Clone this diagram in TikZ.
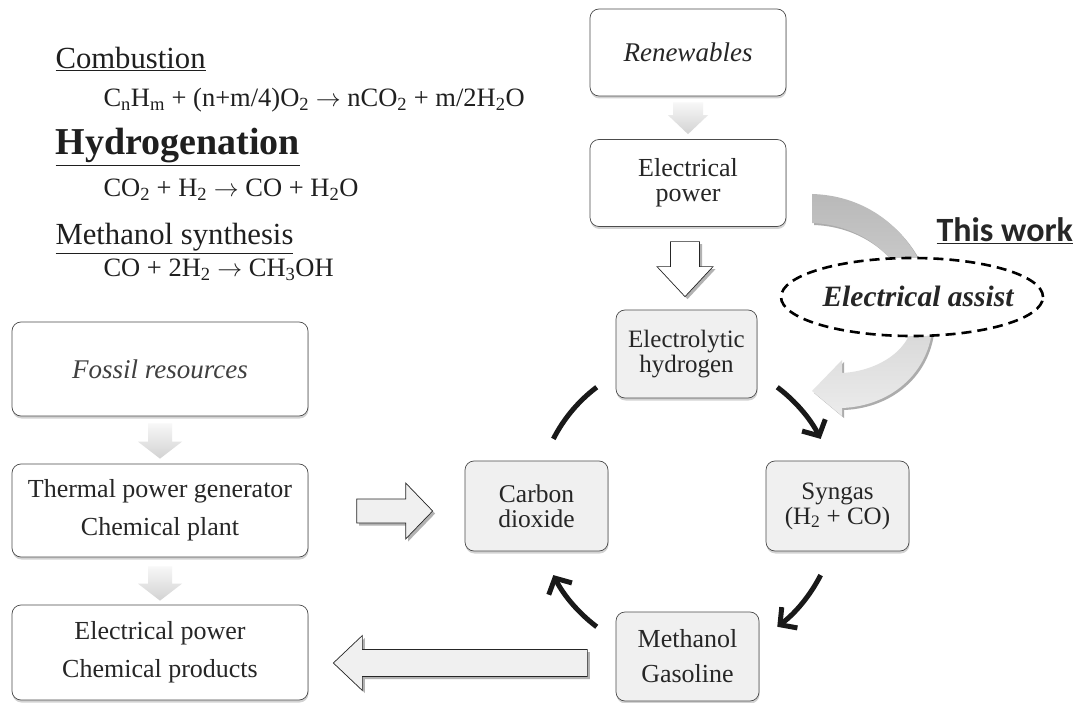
\documentclass[tikz,border=0pt]{standalone}
\usepackage{fontspec}
\setmainfont{Liberation Serif}
\newfontfamily\calibri{Carlito}
\usetikzlibrary{calc,shapes.geometric,shadows,arrows.meta}
\begin{document}
\begin{tikzpicture}[x=1pt,y=-1pt,
  box/.style={draw=gray!60!black, line width=0.7pt, rounded corners=9pt, fill=white, align=center, inner sep=0pt, text=black!85,
    drop shadow={shadow xshift=0.5pt,shadow yshift=-2.5pt,opacity=0.35}},
  cbox/.style={box, fill=gray!12},
  garrow/.style={top color=gray!6, bottom color=gray!35, draw=none},
  harrow/.style={draw=black!85, line width=0.7pt, drop shadow={shadow xshift=2.5pt,shadow yshift=-2.5pt,opacity=1,fill=gray!60}},
  cycarrow/.style={line width=5pt, black!90, -{Straight Barb[length=12pt,width=26pt]}},
  cycline/.style={line width=5pt, black!90},
  eqtext/.style={anchor=base west, text=black!88, font=\fontsize{26.5}{28}\selectfont},
  headtext/.style={anchor=base west, text=black!88, font=\fontsize{30.7}{32}\selectfont},
]
\fill[white] (0,0) rectangle (1082,703);
\useasboundingbox (0,0) rectangle (1082,703);

% ---- equations ----
\node[headtext] (t1) at (52,69) {\underline{Combustion}};
\node[eqtext] (e1) at (100,107) {C\textsubscript{n}H\textsubscript{m} + (n+m/4)O\textsubscript{2} $\rightarrow$ nCO\textsubscript{2} + m/2H\textsubscript{2}O};
\node[anchor=base west, text=black!88, font=\fontsize{38}{40}\selectfont\bfseries] (t2) at (52,155) {\underline{Hydrogenation}};
\node[eqtext] (e2) at (100,197) {CO\textsubscript{2} + H\textsubscript{2} $\rightarrow$ CO + H\textsubscript{2}O};
\node[headtext] (t3) at (52,245) {\underline{Methanol synthesis}};
\node[eqtext] (e3) at (100,277) {CO + 2H\textsubscript{2} $\rightarrow$ CH\textsubscript{3}OH};

% ---- curved assist arrow ----
\path[top color=gray!55, bottom color=gray!15,
      drop shadow={shadow xshift=2pt,shadow yshift=-2pt,opacity=1,fill=gray!65}]
 (812,194) .. controls (885,196) and (933,255) .. (933,318)
 .. controls (933,370) and (893,406) .. (842,408)
 -- (842,416) -- (812,391) -- (842,360) -- (842,373)
 .. controls (880,371) and (913,348) .. (913,318)
 .. controls (913,268) and (870,225) .. (812,223) -- cycle;

\node[ellipse, draw=black, fill=white, line width=2.6pt, dash pattern=on 10pt off 6pt,
      minimum width=262pt, minimum height=78pt, inner sep=0pt] (ea) at (912,297) {};
\node[anchor=base, text=black!85, font=\fontsize{29.5}{30}\selectfont\bfseries\itshape] (eat) at (918,307) {Electrical assist};
\node[anchor=base west, text=black!85, font=\calibri\bfseries\fontsize{34}{36}\selectfont] (tw) at (933,242) {\underline{This work}};

% ---- right column ----
\node[box, minimum width=196pt, minimum height=87pt, font=\fontsize{27}{27}\selectfont\itshape] (ren) at (688,52.5) {Renewables};
\node[box, minimum width=196pt, minimum height=87pt, font=\fontsize{26}{25}\selectfont] (ep) at (688,183) {Electrical\\power};
\node[cbox, minimum width=141pt, minimum height=88pt, font=\fontsize{25}{25}\selectfont] (h2) at (686.5,354) {Electrolytic\\hydrogen};
\node[cbox, minimum width=143pt, minimum height=90pt, font=\fontsize{25.5}{25}\selectfont] (co2) at (536.5,506) {Carbon\\dioxide};
\node[cbox, minimum width=143pt, minimum height=90pt, font=\fontsize{25}{25}\selectfont] (syn) at (837.5,506) {Syngas\\(H\textsubscript{2} + CO)};
\node[cbox, minimum width=143pt, minimum height=89pt, font=\fontsize{26}{35}\selectfont] (meoh) at (687.5,656.5) {Methanol\\Gasoline};

% ---- left column ----
\node[box, minimum width=296pt, minimum height=94pt, font=\fontsize{27}{27}\selectfont\itshape, text=black!75] (fos) at (160,369) {Fossil resources};
\node[box, minimum width=296pt, minimum height=93pt, font=\fontsize{26}{38}\selectfont] (thp) at (160,510.5) {Thermal power generator\\Chemical plant};
\node[box, minimum width=296pt, minimum height=95pt, font=\fontsize{26}{38}\selectfont] (prod) at (160,652.5) {Electrical power\\Chemical products};

% ---- gray block arrows ----
\path[garrow] ($(ren.south)+(-15,6)$) -- ($(ren.south)+(15,6)$) -- ($(ep.north)+(15,-24)$) -- ($(ep.north)+(20,-24)$)
  -- ($(ep.north)+(0,-5)$) -- ($(ep.north)+(-20,-24)$) -- ($(ep.north)+(-15,-24)$) -- cycle;
\path[garrow] ($(fos.south)+(-12,7)$) -- ($(fos.south)+(12,7)$) -- ($(thp.north)+(12,-22)$) -- ($(thp.north)+(22,-22)$)
  -- ($(thp.north)+(0,-5)$) -- ($(thp.north)+(-22,-22)$) -- ($(thp.north)+(-12,-22)$) -- cycle;
\path[garrow] ($(thp.south)+(-12,9)$) -- ($(thp.south)+(12,9)$) -- ($(prod.north)+(12,-21)$) -- ($(prod.north)+(22,-21)$)
  -- ($(prod.north)+(0,-4)$) -- ($(prod.north)+(-22,-21)$) -- ($(prod.north)+(-12,-21)$) -- cycle;

% ---- hollow block arrows ----
\path[harrow, fill=white] ($(h2.north)+(-16,-68)$) -- ($(h2.north)+(13,-68)$) -- ($(h2.north)+(13,-43)$) -- ($(h2.north)+(26.5,-43)$)
  -- ($(h2.north)+(-1.5,-13)$) -- ($(h2.north)+(-29.5,-43)$) -- ($(h2.north)+(-16,-43)$) -- cycle;
\path[harrow, fill=gray!12] ($(co2.west)+(-108,-7)$) -- ($(co2.west)+(-59,-7)$) -- ($(co2.west)+(-59,-23)$) -- ($(co2.west)+(-32,5)$)
  -- ($(co2.west)+(-59,33)$) -- ($(co2.west)+(-59,17)$) -- ($(co2.west)+(-108,17)$) -- cycle;
\path[harrow, fill=gray!12] ($(prod.east)+(279,-3)$) -- ($(prod.east)+(54,-3)$) -- ($(prod.east)+(54,-17)$) -- ($(prod.east)+(25,10.5)$)
  -- ($(prod.east)+(54,38)$) -- ($(prod.east)+(54,24)$) -- ($(prod.east)+(279,24)$) -- cycle;

% ---- cycle arrows ----
\coordinate (cyc) at (687,507);
\draw[cycline] (cyc) ++(-153:150) arc[start angle=-153, end angle=-127, radius=150];
\draw[cycarrow] (cyc) ++(-53:150) arc[start angle=-53, end angle=-27, radius=150];
\draw[cycarrow] (cyc) ++(27:150) arc[start angle=27, end angle=53, radius=150];
\draw[cycarrow] (cyc) ++(127:150) arc[start angle=127, end angle=153, radius=150];
\end{tikzpicture}
\end{document}
